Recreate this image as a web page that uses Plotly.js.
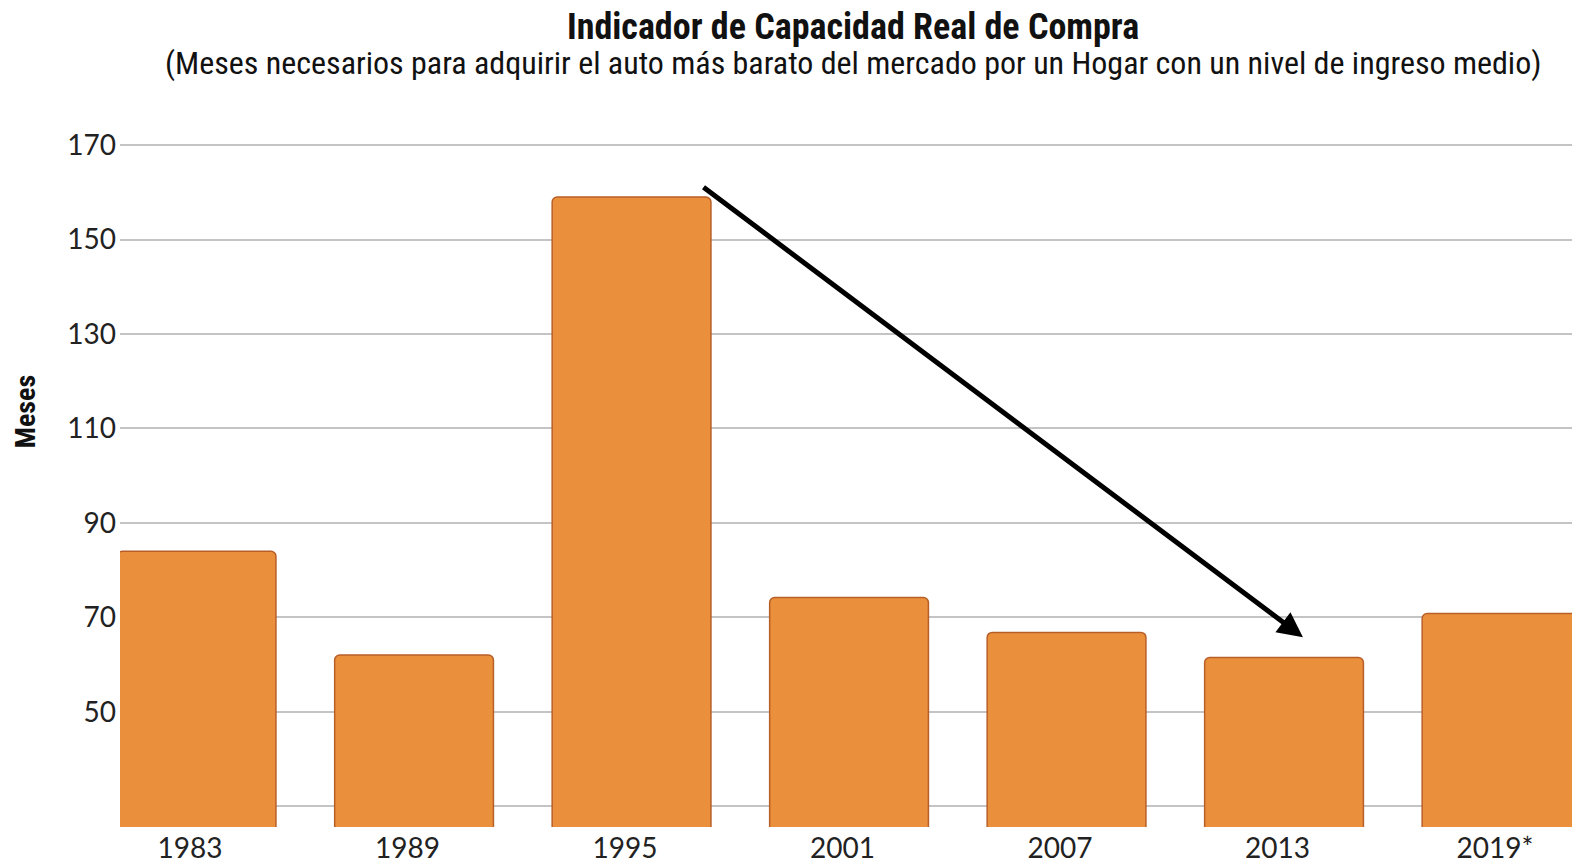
<!DOCTYPE html>
<html>
<head>
<meta charset="utf-8">
<script src="https://cdn.plot.ly/plotly-3.0.1.min.js"></script>
<style>html,body{margin:0;padding:0;background:#fff;}#chart{width:1572px;height:864px;}</style>
</head>
<body>
<div id="chart"></div>
<script>
const years = ['1983', '1989', '1995', '2001', '2007', '2013', '2019*'];
const meses = [84, 62, 159, 74.2, 66.8, 61.5, 70.8];
const tickValues = [30, 50, 70, 90, 110, 130, 150, 170];
const tickLabels = ['', '50', '70', '90', '110', '130', '150', '170'];
// arrow annotation: tail (1995 peak) -> head (2013)
const arrowTail = {x: 2.354, y: 161.3};
const arrowHead = {x: 5.117, y: 65.8};

const trace = {
  type: 'bar',
  x: years,
  y: meses,
  width: 0.73,
  offset: -0.335,
  marker: {color: '#EA903D', line: {color: '#B85F28', width: 1.5}},
  hoverinfo: 'x+y'
};

const condensed = '"Liberation Sans Narrow", "Roboto Condensed", Roboto, sans-serif';

const layout = {
  width: 1572, height: 864,
  margin: {l: 120, r: 0, t: 130, b: 37},
  paper_bgcolor: '#ffffff', plot_bgcolor: '#ffffff',
  showlegend: false,
  barcornerradius: 5,
  font: {family: 'Lato, "Open Sans", sans-serif', color: '#222'},
  title: {text: ''},
  xaxis: {
    type: 'category',
    range: [-0.322, 6.354],
    showgrid: false, zeroline: false, showline: false,
    ticks: '',
    tickfont: {size: 28, color: '#222', family: 'Lato, sans-serif'},
    ticklabelstandoff: 2
  },
  yaxis: {
    range: [25.6, 173.2],
    tickvals: tickValues,
    ticktext: tickLabels,
    showgrid: true, gridcolor: '#C4C4C4', gridwidth: 2,
    zeroline: false, showline: false, ticks: '',
    tickfont: {size: 28, color: '#222', family: 'Lato, sans-serif'},
    ticklabelstandoff: 3
  },
  annotations: [
    {xref: 'paper', yref: 'paper', x: 0.505, y: 1.148, xanchor: 'center', yanchor: 'middle', showarrow: false,
     text: '<b>Indicador de Capacidad Real de Compra</b>',
     font: {size: 36, family: condensed, color: '#111'}},
    {xref: 'paper', yref: 'paper', x: 0.505, y: 1.096, xanchor: 'center', yanchor: 'middle', showarrow: false,
     text: '(Meses necesarios para adquirir el auto más barato del mercado por un Hogar con un nivel de ingreso medio)',
     font: {size: 32, family: condensed, color: '#111'}},
    {xref: 'paper', yref: 'paper', x: -0.0654, y: 0.595, xanchor: 'center', yanchor: 'middle', showarrow: false,
     textangle: -90, text: '<b>Meses</b>',
     font: {size: 28, family: condensed, color: '#111'}},
    {xref: 'x', yref: 'y', axref: 'x', ayref: 'y',
     x: arrowHead.x, y: arrowHead.y, ax: arrowTail.x, ay: arrowTail.y,
     showarrow: true, arrowhead: 2, arrowsize: 1, arrowwidth: 5, arrowcolor: '#000', text: ''}
  ]
};

Plotly.newPlot('chart', [trace], layout, {displayModeBar: false, staticPlot: true});
</script>
</body>
</html>
